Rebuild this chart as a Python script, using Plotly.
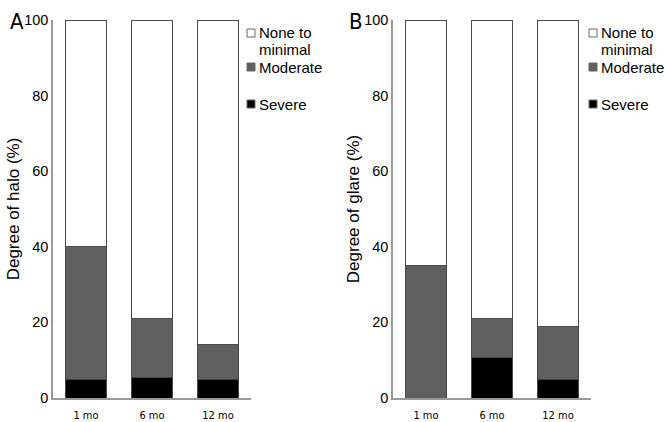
import plotly.graph_objects as go

categories = ["1 mo", "6 mo", "12 mo"]
halo_severe = [5.0, 5.3, 4.8]
halo_moderate = [35.0, 15.8, 9.3]
glare_severe = [0.0, 10.6, 4.8]
glare_moderate = [35.0, 10.5, 14.2]
legend_labels = ["None to", "minimal", "Moderate", "Severe"]

def rest(a, b):
    return [100 - x - y for x, y in zip(a, b)]

halo_none = rest(halo_severe, halo_moderate)
glare_none = rest(glare_severe, glare_moderate)

FONT = "Liberation Sans, Arial, sans-serif"
NARROW = "Liberation Sans Narrow, DejaVu Sans Condensed, Arial Narrow, sans-serif"
colors = {"Severe": "#000000", "Moderate": "#5f5f5f", "None to minimal": "#ffffff"}
names = ["Severe", "Moderate", "None to minimal"]

fig = go.Figure()
panels = [
    ("x", "y", [halo_severe, halo_moderate, halo_none]),
    ("x2", "y2", [glare_severe, glare_moderate, glare_none]),
]
for xa, ya, vals in panels:
    for name, v in zip(names, vals):
        fig.add_trace(go.Bar(
            x=categories, y=v, name=name, xaxis=xa, yaxis=ya, showlegend=False,
            marker=dict(color=colors[name], line=dict(color="#4a4a4a", width=1)),
            width=0.636,
        ))

axis_common = dict(showline=True, linecolor="#999999", linewidth=1.5, ticks="",
                   showgrid=False, zeroline=False, automargin=False)
ytitle = lambda t: dict(text=t, font=dict(size=17), standoff=0)
fig.update_layout(
    width=664, height=422, margin=dict(l=0, r=0, t=0, b=0),
    paper_bgcolor="white", plot_bgcolor="white", barmode="stack",
    font=dict(family=FONT, color="black"),
    xaxis=dict(domain=[53/664, 251/664], range=[-0.5, 2.5], anchor="y",
               tickfont=dict(size=11, family=NARROW), ticklabelstandoff=6, **axis_common),
    xaxis2=dict(domain=[393/664, 591/664], range=[-0.5, 2.5], anchor="y2",
                tickfont=dict(size=11, family=NARROW), ticklabelstandoff=6, **axis_common),
    yaxis=dict(domain=[1-398/422, 1-20/422], range=[0, 100], anchor="x",
               tickvals=[0, 20, 40, 60, 80, 100], tickfont=dict(size=14.5),
               title=ytitle("Degree of halo (%)"), **axis_common),
    yaxis2=dict(domain=[1-398/422, 1-20/422], range=[0, 100], anchor="x2",
                tickvals=[0, 20, 40, 60, 80, 100], tickfont=dict(size=14.5),
                title=ytitle("Degree of glare (%)"), **axis_common),
)

# panel letters
for letter, px in [("A", 8), ("B", 347)]:
    fig.add_annotation(text=letter, x=px/664, y=1-22/422, xref="paper", yref="paper",
                       showarrow=False, font=dict(size=22, family=NARROW),
                       xanchor="left", yanchor="middle")

# legends drawn as shapes + text
legend_rows = [(33, 0), (49, None), (67, 1), (104, 2)]  # y px, swatch index
swatch_colors = ["#ffffff", "#5f5f5f", "#000000"]
for lx in [247, 589]:
    for (ypx, si), label in zip(legend_rows, legend_labels):
        fig.add_annotation(text=label, x=(lx+12)/664, y=1-ypx/422, xref="paper", yref="paper",
                           showarrow=False, font=dict(size=15), xanchor="left", yanchor="middle",
                           xshift=-2)
        if si is not None:
            fig.add_shape(type="rect", xref="paper", yref="paper",
                          x0=lx/664, x1=(lx+8)/664, y0=1-(ypx+4)/422, y1=1-(ypx-4)/422,
                          fillcolor=swatch_colors[si], line=dict(color="#666666", width=1))

fig.write_html("out.html")
